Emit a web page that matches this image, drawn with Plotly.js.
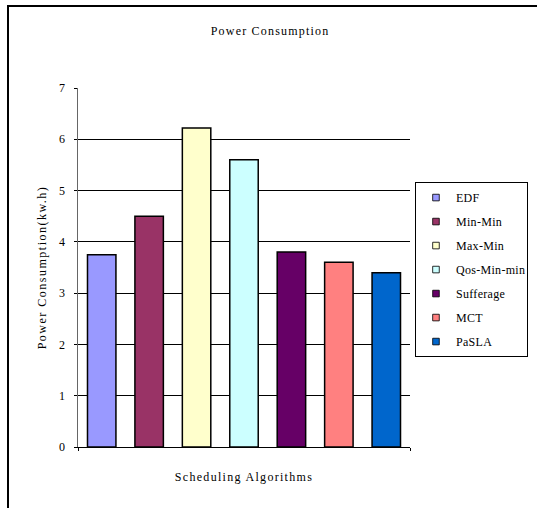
<!DOCTYPE html>
<html>
<head>
<meta charset="utf-8">
<script src="https://cdn.plot.ly/plotly-3.0.1.min.js"></script>
<style>
  html, body { margin: 0; padding: 0; background: #fff; overflow: hidden; }
  #frame { position: absolute; left: 7px; top: 5px; width: 600px; height: 600px;
           border-left: 2px solid #000; border-top: 2px solid #000; }
  #chart { position: absolute; left: 0; top: 0; width: 537px; height: 508px; }
  #chart .gtitle { letter-spacing: 1.2px; }
  #chart .xtitle { letter-spacing: 1.3px; }
  #chart .ytitle { letter-spacing: 1.5px; }
  #chart .legendtext { letter-spacing: 0.3px; }
  #chart .legendpoints path { transform-box: fill-box; transform-origin: center;
                              transform: translate(20px, 0px) scale(0.55); }
</style>
</head>
<body>
<div id="frame"></div>
<div id="chart"></div>
<script>
const categories = ["EDF", "Min-Min", "Max-Min", "Qos-Min-min", "Sufferage", "MCT", "PaSLA"];
const values = [3.75, 4.5, 6.22, 5.6, 3.8, 3.6, 3.4];
const colors = ["#9999FF", "#993366", "#FFFFCC", "#CCFFFF", "#660066", "#FF8080", "#0066CC"];
const yTicks = [0, 1, 2, 3, 4, 5, 6, 7];

const font = "Liberation Serif, Times New Roman, serif";

const traces = categories.map((name, i) => ({
  type: "bar",
  name: name,
  x: [i],
  y: [values[i]],
  width: 0.6,
  legendgroup: name,
  marker: { color: colors[i], line: { color: "#000", width: 1.5 } },
  hoverinfo: "name+y"
}));

const layout = {
  width: 537, height: 508,
  margin: { l: 78, r: 127, t: 88, b: 61, autoexpand: false },
  paper_bgcolor: "rgba(0,0,0,0)",
  plot_bgcolor: "rgba(0,0,0,0)",
  font: { family: font, size: 12, color: "#000" },
  title: { text: "Power Consumption", x: 0.503, xref: "container", y: 0.939, yref: "container",
           yanchor: "middle", font: { family: font, size: 12, color: "#000" } },
  barmode: "overlay",
  showlegend: true,
  legend: {
    x: 1.015, y: 0.738, xanchor: "left", yanchor: "top",
    bordercolor: "#000", borderwidth: 1, bgcolor: "#fff",
    font: { family: font, size: 12, color: "#000" },
    itemwidth: 30,
    tracegroupgap: 5
  },
  xaxis: {
    range: [-0.5, categories.length - 0.5],
    tickvals: [-0.5, categories.length - 0.5],
    ticks: "outside", ticklen: 3, tickcolor: "#000",
    showticklabels: false,
    showgrid: false, zeroline: false,
    showline: true, linecolor: "#000", linewidth: 1,
    fixedrange: true,
    title: { text: "Scheduling Algorithms", standoff: 22, font: { family: font, size: 12, color: "#000" } }
  },
  yaxis: {
    range: [0, 7],
    tickvals: yTicks,
    ticks: "outside", ticklen: 3, tickcolor: "#000",
    ticklabelstandoff: 6,
    showgrid: true, gridcolor: "#000", gridwidth: 1,
    zeroline: false,
    showline: true, linecolor: "#666", linewidth: 1.5,
    fixedrange: true,
    tickfont: { family: font, size: 12, color: "#000" },
    title: { text: "Power Consumption(kw.h)", standoff: 10, font: { family: font, size: 12, color: "#000" } }
  }
};

Plotly.newPlot("chart", traces, layout, { displayModeBar: false, staticPlot: true });
</script>
</body>
</html>
